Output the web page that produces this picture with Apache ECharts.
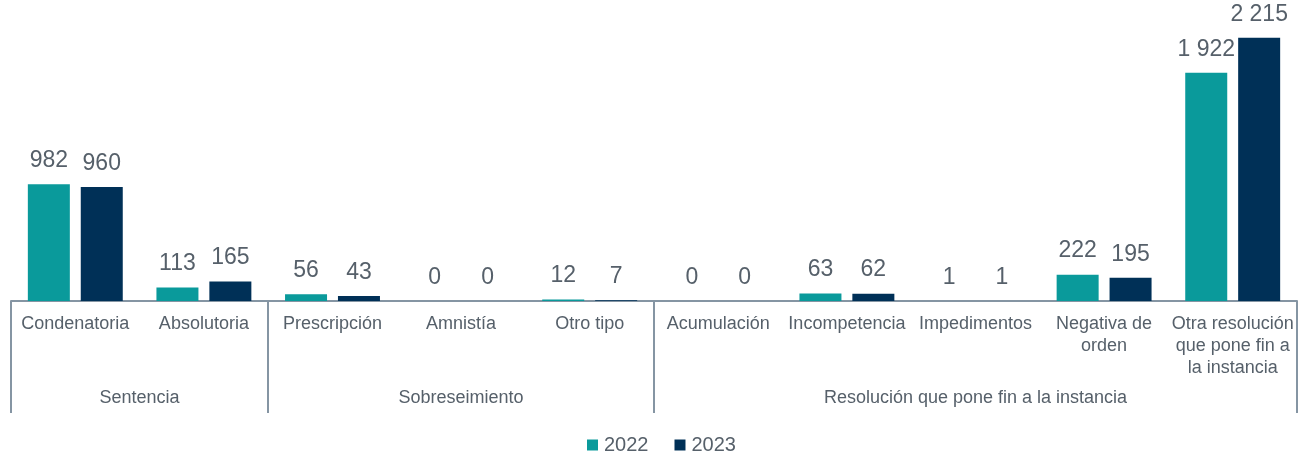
<!DOCTYPE html>
<html>
<head>
<meta charset="utf-8">
<title>Resoluciones 2022 - 2023</title>
<script src="https://cdn.jsdelivr.net/npm/echarts@6.0.0/dist/echarts.min.js"></script>
<style>
  html, body { margin: 0; padding: 0; background: #fff; }
  #chart { width: 1298px; height: 455px; }
</style>
</head>
<body>
<div id="chart"></div>
<script>
// categorias del eje (nivel 1)
const categories = [
  'Condenatoria', 'Absolutoria',
  'Prescripción', 'Amnistía', 'Otro tipo',
  'Acumulación', 'Incompetencia', 'Impedimentos', 'Negativa de\norden',
  'Otra resolución\nque pone fin a\nla instancia'
]
// grupos (nivel 2): nombre y numero de categorias que abarcan
const groupNames = ['Sentencia', 'Sobreseimiento', 'Resolución que pone fin a la instancia']
const groupSizes = [2, 3, 5]
// series
const seriesNames = ['2022', '2023']
const values2022 = [982, 113, 56, 0, 12, 0, 63, 1, 222, 1922]
const values2023 = [960, 165, 43, 0, 7, 0, 62, 1, 195, 2215]

const TEAL = '#0a9a9b'
const NAVY = '#003057'
const TEXT = '#56606a'
const AXIS = '#8595a3'
const FONT = 'Arial, "Liberation Sans", sans-serif'

// limites y centros de los grupos en unidades de categoria
const groupEdges = [0]
groupSizes.forEach(n => groupEdges.push(groupEdges[groupEdges.length - 1] + n))
const groupCenters = groupSizes.map((n, i) => groupEdges[i] + n / 2)

// 1922 -> "1 922"
const fmt = v => String(v).replace(/\B(?=(\d{3})+(?!\d))/g, ' ')

const chart = echarts.init(document.getElementById('chart'))

const barLabel = {
  show: true,
  position: 'top',
  distance: 12,
  color: TEXT,
  fontSize: 23,
  fontFamily: FONT,
  formatter: p => fmt(p.value)
}

chart.setOption({
  animation: false,
  textStyle: { fontFamily: FONT },
  grid: { left: 11, right: 1, top: 4, bottom: 154 },
  legend: {
    data: seriesNames,
    left: 582,
    top: 430,
    icon: 'rect',
    itemWidth: 11,
    itemHeight: 11,
    itemGap: 26,
    textStyle: { color: TEXT, fontSize: 20, fontFamily: FONT, padding: [0, 0, 0, 1] }
  },
  xAxis: [
    {
      type: 'category',
      data: categories,
      axisLine: { show: true, lineStyle: { color: AXIS, width: 2 } },
      axisTick: { show: false },
      axisLabel: {
        interval: 0,
        margin: 12,
        color: TEXT,
        fontSize: 18,
        lineHeight: 22,
        fontFamily: FONT
      }
    },
    {
      // segundo nivel: lineas separadoras y nombres de grupo
      type: 'value',
      min: 0,
      max: categories.length,
      position: 'bottom',
      axisLine: { show: false },
      splitLine: { show: false },
      axisTick: {
        show: true,
        customValues: groupEdges,
        length: 112,
        lineStyle: { color: AXIS, width: 2 }
      },
      axisLabel: {
        show: true,
        customValues: groupCenters,
        margin: 88,
        color: TEXT,
        fontSize: 18,
        fontFamily: FONT,
        formatter: v => groupNames[groupCenters.indexOf(v)] || ''
      }
    }
  ],
  yAxis: {
    type: 'value',
    min: 0,
    max: 2500,
    show: false,
    splitLine: { show: false }
  },
  series: [
    {
      name: seriesNames[0],
      type: 'bar',
      xAxisIndex: 0,
      data: values2022,
      barWidth: 42,
      barGap: '26%',
      itemStyle: { color: TEAL },
      label: barLabel
    },
    {
      name: seriesNames[1],
      type: 'bar',
      xAxisIndex: 0,
      data: values2023,
      barWidth: 42,
      barGap: '26%',
      itemStyle: { color: NAVY },
      label: barLabel
    }
  ]
})
</script>
</body>
</html>
